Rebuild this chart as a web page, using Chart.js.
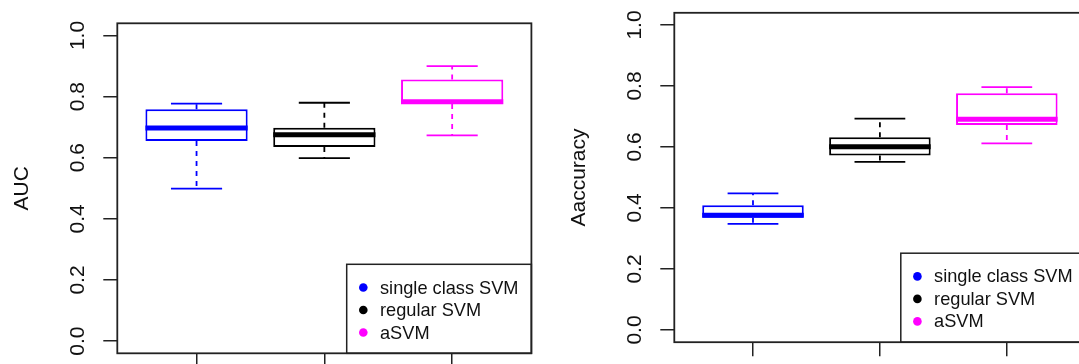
<!DOCTYPE html>
<html>
<head>
<meta charset="utf-8">
<script src="https://cdn.jsdelivr.net/npm/chart.js@4"></script>
<style>
  html, body { margin: 0; padding: 0; background: #fff; overflow: hidden; }
  body { width: 1079px; height: 364px; position: relative; }
  canvas { position: absolute; top: 0; }
  #aucChart { left: 0; }
  #accChart { left: 540px; }
</style>
</head>
<body>
<canvas id="aucChart" width="540" height="364"></canvas>
<canvas id="accChart" width="560" height="364"></canvas>
<script>
// Boxplot panels: AUC and accuracy per classifier
const categories = ["single class SVM", "regular SVM", "aSVM"];
const seriesColors = ["#0000ff", "#000000", "#ff00ff"];
const yTickValues = [0, 0.2, 0.4, 0.6, 0.8, 1.0];
const yTickLabels = ["0.0", "0.2", "0.4", "0.6", "0.8", "1.0"];

// AUC panel
const aucLower = [0.499, 0.599, 0.673];
const aucQ1 = [0.655, 0.635, 0.776];
const aucMedian = [0.697, 0.675, 0.783];
const aucQ3 = [0.759, 0.698, 0.856];
const aucUpper = [0.777, 0.780, 0.900];

// Accuracy panel
const accLower = [0.348, 0.551, 0.612];
const accQ1 = [0.368, 0.572, 0.672];
const accMedian = [0.376, 0.601, 0.691];
const accQ3 = [0.409, 0.632, 0.776];
const accUpper = [0.448, 0.693, 0.796];

const FONT = '"Liberation Sans", Arial, Helvetica, sans-serif';

// whiskers, staples, medians, frame, tick labels, axis title and legend
const boxplotExtras = {
  id: "boxplotExtras",
  afterDatasetsDraw(chart, args, opts) {
    const { ctx, scales: { x, y } } = chart;
    const st = opts.stats;
    ctx.save();
    categories.forEach((c, i) => {
      const cx = x.getPixelForValue(i + 1);
      const boxHalf = x.getPixelForValue(i + 1.4) - cx;
      const stapleHalf = x.getPixelForValue(i + 1.2) - cx;
      const pLow = y.getPixelForValue(st.lower[i]);
      const pQ1 = y.getPixelForValue(st.q1[i]);
      const pMed = y.getPixelForValue(st.median[i]);
      const pQ3 = y.getPixelForValue(st.q3[i]);
      const pUp = y.getPixelForValue(st.upper[i]);
      ctx.strokeStyle = seriesColors[i];
      ctx.lineCap = "butt";

      // dashed whiskers
      ctx.lineWidth = 1.8;
      ctx.setLineDash([5, 5]);
      ctx.beginPath();
      ctx.moveTo(cx, pQ3); ctx.lineTo(cx, pUp);
      ctx.moveTo(cx, pQ1); ctx.lineTo(cx, pLow);
      ctx.stroke();
      ctx.setLineDash([]);

      // staples
      ctx.beginPath();
      ctx.moveTo(cx - stapleHalf, pUp); ctx.lineTo(cx + stapleHalf, pUp);
      ctx.moveTo(cx - stapleHalf, pLow); ctx.lineTo(cx + stapleHalf, pLow);
      ctx.stroke();

      // median
      ctx.lineWidth = 5;
      ctx.beginPath();
      ctx.moveTo(cx - boxHalf, pMed); ctx.lineTo(cx + boxHalf, pMed);
      ctx.stroke();
    });
    ctx.restore();
  },
  afterDraw(chart, args, opts) {
    const { ctx, chartArea: a, scales: { y } } = chart;
    ctx.save();

    // legend, anchored bottom-right
    const lw = 184.7, lh = 89;
    const lx = a.right - lw, ly = a.bottom - lh;
    ctx.fillStyle = "#fff";
    ctx.fillRect(lx, ly, lw, lh);
    ctx.strokeStyle = "#222";
    ctx.lineWidth = 1.5;
    ctx.strokeRect(lx, ly, lw, lh);
    ctx.font = "18.2px " + FONT;
    ctx.textAlign = "left";
    ctx.textBaseline = "middle";
    categories.forEach((c, i) => {
      const ry = ly + 23.2 + i * 22.5;
      ctx.fillStyle = seriesColors[i];
      ctx.beginPath();
      ctx.arc(lx + 16.6, ry, 4.3, 0, Math.PI * 2);
      ctx.fill();
      ctx.fillStyle = "#111";
      ctx.fillText(c, lx + 33.3, ry + 1);
    });

    // plot frame
    ctx.strokeStyle = "#222";
    ctx.lineWidth = 1.8;
    ctx.strokeRect(a.left, a.top, a.right - a.left, a.bottom - a.top);

    // rotated y tick labels
    ctx.fillStyle = "#111";
    ctx.font = "21px " + FONT;
    ctx.textAlign = "center";
    ctx.textBaseline = "alphabetic";
    yTickValues.forEach((v, i) => {
      ctx.save();
      ctx.translate(a.left - 33.6, y.getPixelForValue(v));
      ctx.rotate(-Math.PI / 2);
      ctx.fillText(yTickLabels[i], 0, 0);
      ctx.restore();
    });

    // axis title
    ctx.save();
    ctx.translate(a.left - 95, (a.top + a.bottom) / 2);
    ctx.rotate(-Math.PI / 2);
    ctx.textBaseline = "middle";
    ctx.fillText(opts.title, 0, 0);
    ctx.restore();

    ctx.restore();
  }
};

const makePanel = (canvasId, title, stats, layout) => {
  const ctx = document.getElementById(canvasId).getContext("2d");
  const datasets = categories.map((c, i) => ({
    label: c,
    data: [{ x: i + 1, y: [stats.q1[i], stats.q3[i]] }],
    backgroundColor: "#ffffff",
    borderColor: seriesColors[i],
    borderWidth: 2,
    borderSkipped: false,
    barPercentage: 0.8,
    categoryPercentage: 1,
    grouped: false
  }));
  return new Chart(ctx, {
    type: "bar",
    data: { datasets },
    options: {
      responsive: false,
      animation: false,
      devicePixelRatio: 1,
      events: [],
      layout: { padding: { top: layout.top, right: layout.right, left: 0, bottom: 0 } },
      scales: {
        x: {
          type: "linear",
          min: 0.38,
          max: 3.62,
          offset: false,
          afterBuildTicks: (scale) => { scale.ticks = [1, 2, 3].map((v) => ({ value: v })); },
          afterFit: (scale) => { scale.height = layout.xHeight; },
          ticks: { display: false },
          border: { display: false },
          grid: { offset: false, drawOnChartArea: false, drawTicks: true, tickLength: 14, color: "#222", lineWidth: 1.5 }
        },
        y: {
          type: "linear",
          min: -0.04,
          max: 1.04,
          afterBuildTicks: (scale) => { scale.ticks = yTickValues.map((v) => ({ value: v })); },
          afterFit: (scale) => { scale.width = layout.yWidth; },
          ticks: { display: false },
          border: { display: false },
          grid: { drawOnChartArea: false, drawTicks: true, tickLength: 14, color: "#222", lineWidth: 1.5 }
        }
      },
      plugins: {
        legend: { display: false },
        tooltip: { enabled: false },
        boxplotExtras: { stats, title }
      }
    },
    plugins: [boxplotExtras]
  });
};

makePanel("aucChart", "AUC",
  { lower: aucLower, q1: aucQ1, median: aucMedian, q3: aucQ3, upper: aucUpper },
  { top: 23.3, right: 8.6, xHeight: 10.7, yWidth: 117.3 });

makePanel("accChart", "Aaccuracy",
  { lower: accLower, q1: accQ1, median: accMedian, q3: accQ3, upper: accUpper },
  { top: 12.8, right: 14.5, xHeight: 21.8, yWidth: 134.3 });
</script>
</body>
</html>
